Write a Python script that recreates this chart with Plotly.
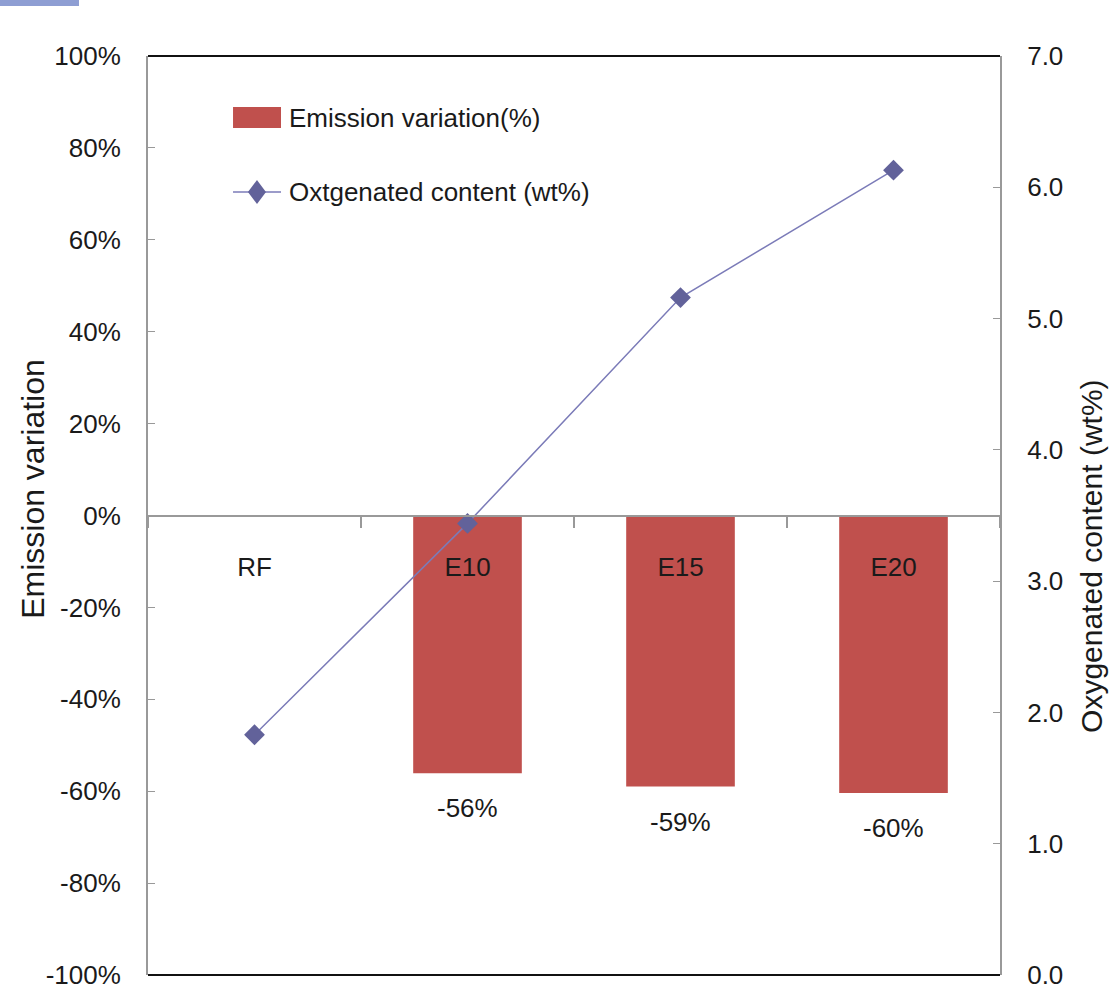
import plotly.graph_objects as go

categories = ["RF", "E10", "E15", "E20"]
emission_variation = [None, -0.561, -0.590, -0.604]
oxygenated_content = [1.83, 3.44, 5.16, 6.13]

left_tickvals = [1.0, 0.8, 0.6, 0.4, 0.2, 0.0, -0.2, -0.4, -0.6, -0.8, -1.0]
left_ticktext = ["100%", "80%", "60%", "40%", "20%", "0%", "-20%", "-40%", "-60%", "-80%", "-100%"]
right_tickvals = [0, 1, 2, 3, 4, 5, 6, 7]
right_ticktext = ["0.0", "1.0", "2.0", "3.0", "4.0", "5.0", "6.0", "7.0"]

BAR_COLOR = "#C0504D"
LINE_COLOR = "#7B7BB8"
MARK_COLOR = "#62629A"
AXIS_GRAY = "#999999"
FONT = "Liberation Sans, Arial, sans-serif"
TXT = "#1a1a1a"
FS = 26

fig = go.Figure()
fig.add_trace(go.Bar(
    x=categories, y=emission_variation, marker=dict(color=BAR_COLOR, line=dict(width=0)),
    width=0.51, name="Emission variation(%)", showlegend=False,
))
fig.add_trace(go.Scatter(
    x=categories, y=oxygenated_content, yaxis="y2", mode="lines+markers",
    line=dict(color=LINE_COLOR, width=1.5),
    marker=dict(symbol="diamond", size=16, color=MARK_COLOR),
    name="Oxtgenated content (wt%)", showlegend=False,
))

annotations = []
for c, v in zip(categories, emission_variation):
    if v is None:
        continue
    annotations.append(dict(
        x=c, y=v, xref="x", yref="y", text=f"{round(v * 100)}%", showarrow=False,
        yshift=-35, font=dict(family=FONT, size=FS, color=TXT),
    ))

# axis titles
annotations.append(dict(
    x=-0.135, y=0.529, xref="paper", yref="paper", text="Emission variation",
    textangle=-90, showarrow=False, xanchor="center", yanchor="middle",
    font=dict(family=FONT, size=32, color=TXT),
))
annotations.append(dict(
    x=1.108, y=0.456, xref="paper", yref="paper", text="Oxygenated content (wt%)",
    textangle=-90, showarrow=False, xanchor="center", yanchor="middle",
    font=dict(family=FONT, size=30, color=TXT),
))
# legend text
annotations.append(dict(
    x=0.1631, y=0.9325, xref="paper", yref="paper", text="Emission variation(%)",
    xanchor="left", yanchor="middle", showarrow=False,
    font=dict(family=FONT, size=FS, color=TXT),
))
annotations.append(dict(
    x=0.1631, y=0.852, xref="paper", yref="paper", text="Oxtgenated content (wt%)",
    xanchor="left", yanchor="middle", showarrow=False,
    font=dict(family=FONT, size=FS, color=TXT),
))

shapes = [
    # top-left blue strip
    dict(type="rect", xref="paper", yref="paper", x0=-0.1737, x1=-0.081, y0=1.0544, y1=1.0609,
         fillcolor="#8E9ED3", line=dict(width=0)),
    # top / bottom borders
    dict(type="line", xref="paper", yref="paper", x0=0, x1=1, y0=1, y1=1,
         line=dict(color="#111", width=2)),
    dict(type="line", xref="paper", yref="paper", x0=0, x1=1, y0=0, y1=0,
         line=dict(color="#111", width=2)),
    # legend symbols
    dict(type="rect", xref="paper", yref="paper", x0=0.0998, x1=0.1561, y0=0.9217, y1=0.9445,
         fillcolor=BAR_COLOR, line=dict(width=0)),
    dict(type="line", xref="paper", yref="paper", x0=0.0998, x1=0.1561, y0=0.852, y1=0.852,
         line=dict(color=LINE_COLOR, width=1.5)),
    dict(type="path", xref="paper", yref="paper", xsizemode="pixel", ysizemode="pixel",
         xanchor=0.1279, yanchor=0.852, path="M0,12 L9,0 L0,-12 L-9,0 Z",
         fillcolor=MARK_COLOR, line=dict(width=0)),
]

fig.update_layout(
    width=1113, height=993,
    margin=dict(l=148, r=113, t=56, b=18, autoexpand=False),
    paper_bgcolor="white", plot_bgcolor="white",
    bargap=0.49,
    showlegend=False,
    xaxis=dict(
        anchor="free", position=0.5, showline=True, linecolor=AXIS_GRAY, linewidth=2,
        ticks="outside", ticklen=11, tickcolor=AXIS_GRAY, tickwidth=1.5, tickson="boundaries",
        showgrid=False, zeroline=False, ticklabelstandoff=28, automargin=False,
        tickfont=dict(family=FONT, size=FS, color=TXT),
        range=[-0.5, 3.5],
    ),
    yaxis=dict(
        range=[-1, 1], tickvals=left_tickvals, ticktext=left_ticktext,
        showline=True, linecolor=AXIS_GRAY, linewidth=2, mirror=False,
        ticks="inside", ticklen=7, tickcolor=AXIS_GRAY, automargin=False,
        showgrid=False, zeroline=False, ticklabelstandoff=20,
        tickfont=dict(family=FONT, size=FS, color=TXT),
    ),
    yaxis2=dict(
        overlaying="y", side="right", range=[0, 7],
        tickvals=right_tickvals, ticktext=right_ticktext, automargin=False,
        showline=True, linecolor=AXIS_GRAY, linewidth=2,
        ticks="inside", ticklen=7, tickcolor=AXIS_GRAY,
        showgrid=False, zeroline=False, ticklabelstandoff=20,
        tickfont=dict(family=FONT, size=FS, color=TXT),
    ),
    annotations=annotations,
    shapes=shapes,
)

fig.write_html("out.html")
